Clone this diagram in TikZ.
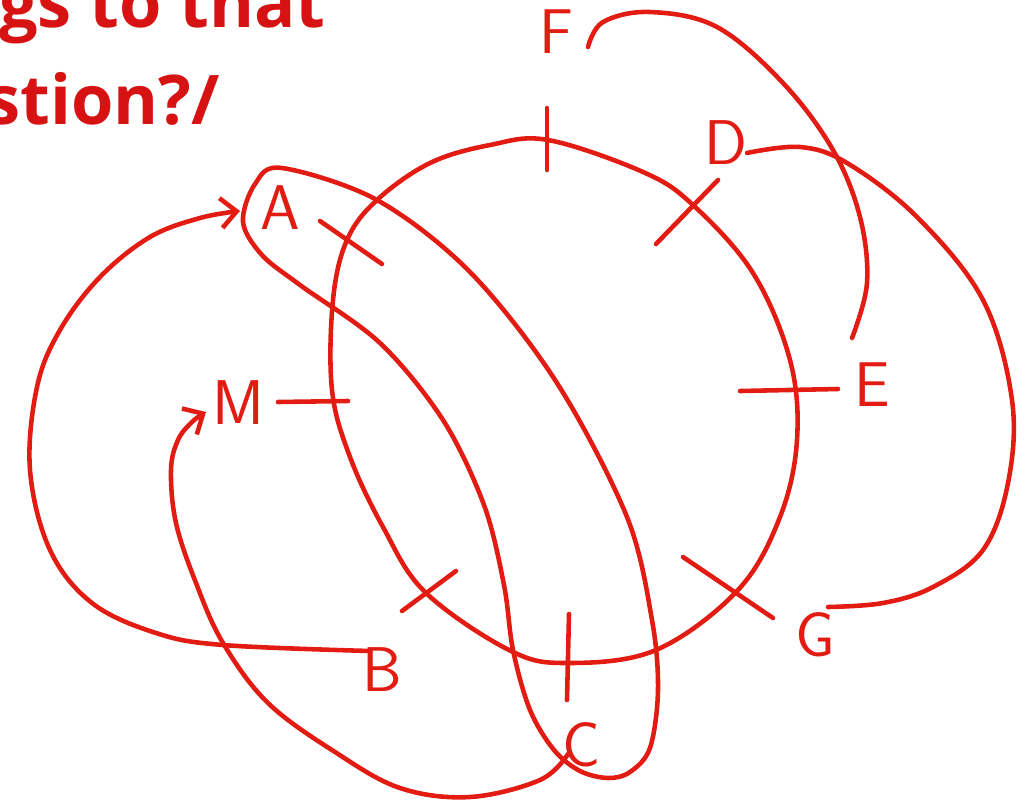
\documentclass[tikz,border=0pt]{standalone}
\usepackage{fontspec}
\newfontfamily\headfont{Open Sans}
\usetikzlibrary{arrows.meta}
\definecolor{ink}{RGB}{226,28,18}
\definecolor{headink}{RGB}{214,18,18}
\begin{document}
\begin{tikzpicture}[x=0.02cm,y=-0.02cm,
  stroke/.style={draw=ink,line width=2.6pt,line cap=round,line join=round},
  tick/.style={stroke},
  lbl/.style={text=ink,font=\sffamily\fontsize{36}{36}\selectfont,inner sep=0pt},
  arr/.style={stroke,-{Straight Barb[length=9pt,width=17pt]}},
  head/.style={text=headink,font=\headfont\bfseries\fontsize{39}{39}\selectfont,inner sep=0pt}]
\useasboundingbox (0,0) rectangle (1025,809);
\clip (0,0) rectangle (1025,809);

% heading fragments
\node[head,anchor=base east] (h1) at (326,27) {gs to that};
\node[head,anchor=base east] (h2) at (220,124) {stion?/};

% labels
\node[lbl] (A) at (280,208) {A};
\node[lbl] (B) at (382,670) {B};
\node[lbl] (C) at (582,745) {C};
\node[lbl] (D) at (726,143) {D};
\node[lbl] (E) at (872,385) {E};
\node[lbl] (F) at (556,32) {F};
\node[lbl] (G) at (815,635) {G};
\node[lbl] (M) at (238,403) {M};

% big circle
\draw[stroke] plot[smooth cycle,tension=0.6] coordinates {
 (548,140) (643,172) (693,205) (753,273) (790,360) (797,440) (780,517)
 (738,590) (656,650) (567,663) (509,650) (425,592) (383,527) (350,457)
 (332,390) (333,300) (347,240) (377,200) (430,163) (490,145)};

% A--C loop
\draw[stroke] plot[smooth cycle,tension=0.55] coordinates {
 (282,168) (377,200) (470,272) (557,383) (627,517) (652,620) (658,690)
 (650,748) (630,772) (608,778) (580,771) (554,750) (530,710) (513,650)
 (504,585) (484,505) (443,420) (380,343) (300,285) (262,255) (243,222)
 (255,184)};

% ticks on the circle
\draw[tick] (547,108) -- (547,170);
\draw[tick] (656,244) -- (718,180);
\draw[tick] (740,391) -- (838,389);
\draw[tick] (683,557) -- (773,618);
\draw[tick] (569,614) -- (567,700);
\draw[tick] (402,611) -- (456,571);
\draw[tick] (278,402) -- (348,401);
\draw[tick] (320,221) -- (382,264);

% F -> E
\coordinate (Fs) at (588,47);
\coordinate (Ee) at (852,338);
\draw[stroke] plot[smooth,tension=0.6] coordinates {
 (Fs) (603,22) (650,12) (717,27) (783,83) (833,150) (860,217) (867,283) (Ee)};

% D -> G
\coordinate (Ds) at (747,153);
\coordinate (Ge) at (828,607);
\draw[stroke] plot[smooth,tension=0.6] coordinates {
 (Ds) (800,147) (847,163) (917,217) (983,300) (1012,400) (1008,483)
 (983,550) (933,587) (883,603) (Ge)};

% B -> A
\coordinate (Bs) at (370,651);
\coordinate (Ae) at (240,211);
\draw[arr] plot[smooth,tension=0.6] coordinates {
 (Bs) (223,645) (156,633) (92,603) (50,550) (30,470) (37,387) (60,330)
 (100,277) (150,237) (200,218) (Ae)};

% C -> M
\coordinate (Cs) at (568,754);
\coordinate (Me) at (206,412);
\draw[arr] plot[smooth,tension=0.6] coordinates {
 (Cs) (540,780) (470,797) (400,788) (335,752) (268,703) (223,643)
 (196,583) (176,523) (171,470) (178,440) (192,422) (Me)};
\end{tikzpicture}
\end{document}
